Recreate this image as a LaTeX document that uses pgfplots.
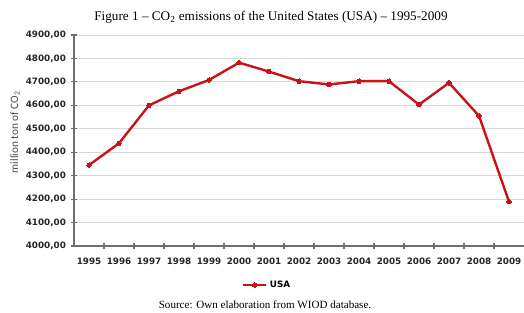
\documentclass[border=0pt]{standalone}
\usepackage{pgfplots}
\pgfplotsset{compat=1.18}
\usepackage{fontspec}
\setmainfont{Carlito}
\newfontfamily\serif{Liberation Serif}
\newfontfamily\ticks{DejaVu Sans}
\definecolor{linered}{RGB}{200,20,25}
\definecolor{gridgray}{RGB}{217,217,217}
\definecolor{axgray}{RGB}{110,110,110}
\begin{document}
\begin{tikzpicture}
\path[use as bounding box] (-55.5pt,-50.25pt) rectangle (337.5pt,184.5pt);
\begin{axis}[
  at={(0,0)}, anchor=south west,
  scale only axis, width=337.5pt, height=158.25pt,
  xmin=-0.5, xmax=14.5, ymin=4000, ymax=4900,
  axis lines=left, axis line style={axgray, line width=0.8pt, -},
  xtick={0,...,14},
  xticklabels={1995,1996,1997,1998,1999,2000,2001,2002,2003,2004,2005,2006,2007,2008,2009},
  major x tick style={draw=none},
  minor xtick={0.5,1.5,...,13.5},
  minor x tick style={axgray, line width=0.8pt},
  minor tick length=5pt,
  ytick={4000,4100,...,4900},
  major y tick style={axgray, line width=0.8pt},
  major tick length=5pt,
  tick align=center,
  ymajorgrids, grid style={gridgray, line width=0.6pt},
  tick label style={font=\ticks\fontsize{6.6}{8}\selectfont\bfseries, text=black!85},
  /pgf/number format/assume math mode=true,
  yticklabel={\pgfmathprintnumber[fixed, zerofill, precision=2, use comma, 1000 sep={}]{\tick}},
  yticklabel style={xshift=0pt},
  xticklabel style={yshift=-3pt},
  clip=false,
  legend style={at={(0.43,-29.25pt)}, anchor=center, draw=none, fill=none,
    font=\ticks\fontsize{6.6}{8}\selectfont\bfseries, inner sep=1pt},
  legend cell align=left,
  legend image post style={line width=1.8pt},
]
\addplot[linered, line width=1.8pt, mark=*, mark size=1.7pt, mark options={fill=linered, draw=linered, line width=0pt}]
  coordinates {(0,4345) (1,4438) (2,4600) (3,4660) (4,4708) (5,4782) (6,4744) (7,4703) (8,4689) (9,4703) (10,4703) (11,4603) (12,4696) (13,4555) (14,4189)};
\addlegendentry{USA}
\end{axis}
\node[font=\serif\fontsize{9.9}{12}\selectfont] at (147.75pt,171.75pt) {Figure 1 – CO\textsubscript{2} emissions of the United States (USA) – 1995-2009};
\node[font=\fontsize{8.5}{9}\selectfont, text=black!70, rotate=90] at (-44.25pt,85.5pt) {million ton of CO\textsubscript{2}};
\node[font=\serif\fontsize{8.3}{9}\selectfont] at (143.25pt,-44.25pt) {Source: Own elaboration from WIOD database.};
\end{tikzpicture}
\end{document}
